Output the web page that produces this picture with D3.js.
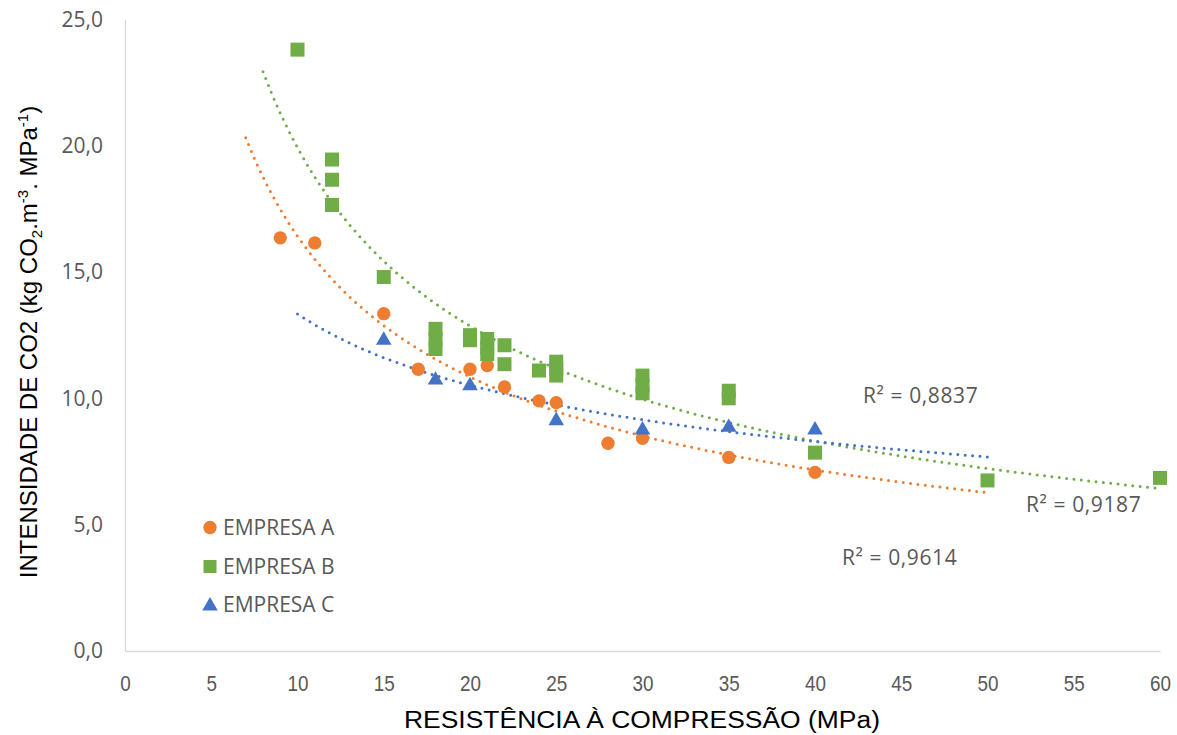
<!DOCTYPE html>
<html>
<head>
<meta charset="utf-8">
<script src="https://cdn.jsdelivr.net/npm/d3@7"></script>
<style>
  html, body { margin: 0; padding: 0; background: #fff; }
  svg { display: block; }
</style>
</head>
<body>
<svg id="chart" width="1177" height="735"></svg>
<script>
// Resistência à compressão (MPa) x intensidade de CO2 por empresa
const empresaA_x = [9, 11, 15, 17, 20, 21, 22, 24, 25, 28, 30, 35, 40];
const empresaA_y = [16.35, 16.15, 13.35, 11.15, 11.15, 11.3, 10.45, 9.9, 9.83, 8.22, 8.42, 7.66, 7.07];

const empresaB_x = [10, 12, 12, 12, 15, 18, 18, 18, 20, 20, 21, 21, 21, 22, 22, 24, 25, 25, 25, 30, 30, 30, 35, 35, 40, 50, 60];
const empresaB_y = [23.8, 19.45, 18.65, 17.65, 14.8, 12.75, 12.35, 11.95, 12.5, 12.3, 12.35, 12.0, 11.75, 12.1, 11.35, 11.1, 11.45, 11.15, 10.9, 10.9, 10.5, 10.2, 10.3, 10.0, 7.85, 6.75, 6.85];

const empresaC_x = [15, 18, 20, 25, 30, 35, 40];
const empresaC_y = [12.3, 10.72, 10.5, 9.11, 8.75, 8.85, 8.75];

// Trend line (power) extents, in MPa
const trendA_range = [7, 50];
const trendB_range = [8, 60];
const trendC_range = [10, 50];

const r2Labels = ["R² = 0,8837", "R² = 0,9187", "R² = 0,9614"];
const seriesNames = ["EMPRESA A", "EMPRESA B", "EMPRESA C"];

const xTicks = [0, 5, 10, 15, 20, 25, 30, 35, 40, 45, 50, 55, 60];
const yTicks = [0, 5, 10, 15, 20, 25];

const colors = { A: "#ED7D31", B: "#70AD47", C: "#4472C4" };
const textGray = "#595959";
const uiFont = "'Open Sans', 'Noto Sans', sans-serif";
const titleFont = "'Liberation Sans', Arial, sans-serif";

const svg = d3.select("#chart");

const x = d3.scaleLinear().domain([0, 60]).range([125, 1160]);
const y = d3.scaleLinear().domain([0, 25]).range([651, 19.3]);

// Axes (no tick marks, light axis lines)
const fmtY = v => d3.format(".1f")(v).replace(".", ",");

const yAxis = svg.append("g")
  .attr("transform", `translate(${x(0)},0)`)
  .call(d3.axisLeft(y).tickValues(yTicks).tickFormat(fmtY).tickSize(0).tickPadding(22));
yAxis.select(".domain").attr("stroke", "#d9d9d9").attr("stroke-width", 1.3);
yAxis.selectAll("text")
  .attr("fill", textGray)
  .style("font-family", uiFont)
  .style("font-size", "21px");

const xAxis = svg.append("g")
  .attr("transform", `translate(0,${y(0)})`)
  .call(d3.axisBottom(x).tickValues(xTicks).tickFormat(d3.format("d")).tickSize(0).tickPadding(24));
xAxis.select(".domain").attr("stroke", "#d9d9d9").attr("stroke-width", 1.3);
xAxis.selectAll("text")
  .attr("fill", textGray)
  .style("font-family", titleFont)
  .style("font-size", "22px")
  .attr("textLength", d => String(d).length * 10.5)
  .attr("lengthAdjust", "spacingAndGlyphs");

// Power-law least squares fit in log space: y = a * x^b
function powerFit(xs, ys) {
  const lx = xs.map(Math.log), ly = ys.map(Math.log);
  const mx = d3.mean(lx), my = d3.mean(ly);
  let sxy = 0, sxx = 0;
  lx.forEach((v, i) => { sxy += (v - mx) * (ly[i] - my); sxx += (v - mx) * (v - mx); });
  const b = sxy / sxx;
  const a = Math.exp(my - b * mx);
  return v => a * Math.pow(v, b);
}

function trendPoints(xs, ys, range) {
  const f = powerFit(xs, ys);
  return d3.range(0, 101).map(i => {
    const v = range[0] + (range[1] - range[0]) * i / 100;
    return [v, f(v)];
  });
}

const line = d3.line().x(d => x(d[0])).y(d => y(d[1])).curve(d3.curveLinear);

const trends = [
  { pts: trendPoints(empresaA_x, empresaA_y, trendA_range), color: colors.A },
  { pts: trendPoints(empresaB_x, empresaB_y, trendB_range), color: colors.B },
  { pts: trendPoints(empresaC_x, empresaC_y, trendC_range), color: colors.C }
];

svg.append("g").selectAll("path")
  .data(trends)
  .join("path")
  .attr("d", d => line(d.pts))
  .attr("fill", "none")
  .attr("stroke", d => d.color)
  .attr("stroke-width", 3)
  .attr("stroke-linecap", "round")
  .attr("stroke-dasharray", "0 7.4");

// Markers
const circleSym = d3.symbol().type(d3.symbolCircle).size(140);
const squareSym = d3.symbol().type(d3.symbolSquare).size(196);
const triSym = d3.symbol().type(d3.symbolTriangle).size(105);

const zip = (xs, ys) => xs.map((v, i) => [v, ys[i]]);

svg.append("g").selectAll("path")
  .data(zip(empresaA_x, empresaA_y))
  .join("path")
  .attr("d", circleSym)
  .attr("transform", d => `translate(${x(d[0])},${y(d[1])})`)
  .attr("fill", colors.A);

svg.append("g").selectAll("path")
  .data(zip(empresaB_x, empresaB_y))
  .join("path")
  .attr("d", squareSym)
  .attr("transform", d => `translate(${x(d[0])},${y(d[1])})`)
  .attr("fill", colors.B);

svg.append("g").selectAll("path")
  .data(zip(empresaC_x, empresaC_y))
  .join("path")
  .attr("d", triSym)
  .attr("transform", d => `translate(${x(d[0])},${y(d[1])})`)
  .attr("fill", colors.C);

// R² labels
const r2Pos = [[863, 403], [1026, 512], [842, 565]];
svg.append("g").selectAll("text")
  .data(r2Labels)
  .join("text")
  .attr("x", (d, i) => r2Pos[i][0])
  .attr("y", (d, i) => r2Pos[i][1])
  .attr("fill", textGray)
  .style("font-family", uiFont)
  .style("font-size", "21px")
  .style("letter-spacing", "0.6px")
  .text(d => d);

// Legend
const legendSyms = [
  { sym: circleSym, color: colors.A, cy: 527.5 },
  { sym: d3.symbol().type(d3.symbolSquare).size(169), color: colors.B, cy: 566.5 },
  { sym: triSym, color: colors.C, cy: 606 }
];
const legendBase = [535, 574, 612];
const legend = svg.append("g");
seriesNames.forEach((name, i) => {
  legend.append("path")
    .attr("d", legendSyms[i].sym)
    .attr("transform", `translate(210,${legendSyms[i].cy})`)
    .attr("fill", legendSyms[i].color);
  legend.append("text")
    .attr("x", 223)
    .attr("y", legendBase[i])
    .attr("fill", textGray)
    .style("font-family", uiFont)
    .style("font-size", "21px")
    .text(name);
});

// Axis titles
svg.append("text")
  .attr("x", 404)
  .attr("y", 728)
  .attr("fill", "#000")
  .style("font-family", titleFont)
  .style("font-size", "23.5px")
  .attr("textLength", 476)
  .attr("lengthAdjust", "spacingAndGlyphs")
  .text("RESISTÊNCIA À COMPRESSÃO (MPa)");

const yTitle = svg.append("text")
  .attr("transform", "translate(37,342) rotate(-90)")
  .attr("text-anchor", "middle")
  .attr("fill", "#000")
  .style("font-family", titleFont)
  .style("font-size", "24px");
yTitle.append("tspan").text("INTENSIDADE DE CO2 (kg CO");
yTitle.append("tspan").attr("dy", 5).style("font-size", "15px").text("2");
yTitle.append("tspan").attr("dy", -5).text(".m");
yTitle.append("tspan").attr("dy", -9).style("font-size", "15px").text("-3");
yTitle.append("tspan").attr("dy", 9).text(". MPa");
yTitle.append("tspan").attr("dy", -9).style("font-size", "15px").text("-1");
yTitle.append("tspan").attr("dy", 9).text(")");
</script>
</body>
</html>
